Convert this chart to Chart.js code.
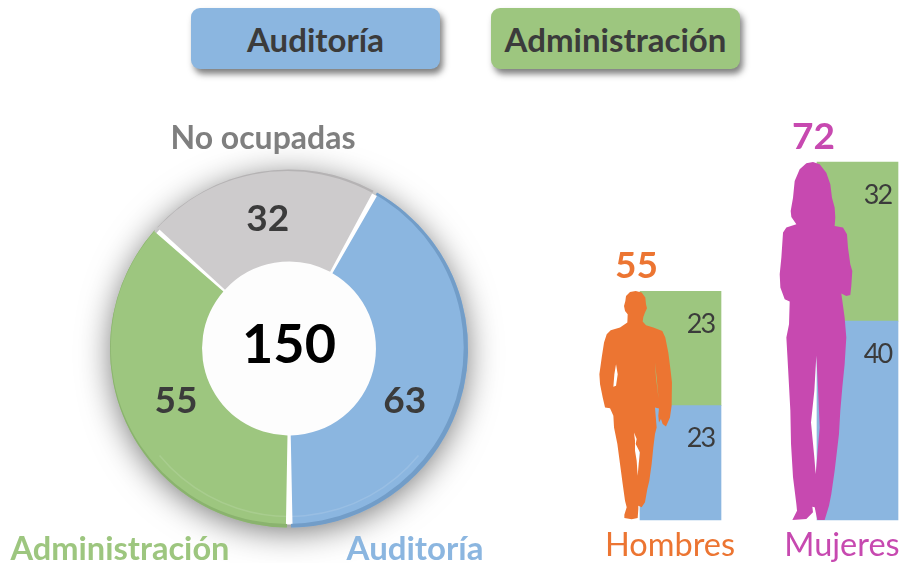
<!DOCTYPE html>
<html>
<head>
<meta charset="utf-8">
<script src="https://cdn.jsdelivr.net/npm/chart.js@4"></script>
<style>
    html, body { margin: 0; padding: 0; background: #fff; overflow: hidden; }
    #page { position: relative; width: 901px; height: 563px; font-family: Lato, sans-serif; }
    canvas { position: absolute; left: 0; top: 0; }
    .btn {
        position: absolute; top: 8px; width: 249px; height: 61px; border-radius: 9px;
        line-height: 63px; text-align: center; font-size: 33px; font-weight: 700; color: #3b3b3b;
        box-shadow: 3px 5px 6px rgba(60, 60, 60, 0.65);
    }
</style>
</head>
<body>
<div id="page">
    <div class="btn" id="btnA" style="left:191px"></div>
    <div class="btn" id="btnB" style="left:491px"></div>
    <canvas id="donut" width="901" height="563"></canvas>
    <canvas id="bars" width="901" height="563"></canvas>
</div>
<script>
const areaNames = ['Auditoría', 'Administración', 'No ocupadas'];
const areaValues = [63, 55, 32];
const centerTotal = 150;

const genders = ['Hombres', 'Mujeres'];
const genderTotals = [55, 72];
const auditoriaByGender = [23, 40];
const adminByGender = [23, 32];

const BLUE = '#8bb6e0', GREEN = '#9dc67f', GRAY = '#cdcbcc';
const areaColors = [BLUE, GREEN, GRAY];
const rimColors = ['#729dc8', '#8ab36e', '#b5b3b4'];
const nameColors = [BLUE, GREEN, '#7f7f7f'];
const genderColors = ['#ec7532', '#c749b0'];

// label nudges, the source slide had them placed by hand
const valueNudge = [[-13, 19], [8.5, -2], [1, 2]];
const nameOffset = [[126, 201], [-169, 201], [-26, -210]];
const nameSizes = [33, 32.6, 32];
const genderNudge = [-10.5, -15.5];

// silhouettes traced in their own units: x from the bar's left edge, y up from the baseline
const manH = 687;
const manPath = [
    [[-30,-685],[-13,-688],[5,-683],[16,-668],[18,-648],[21,-636],[15,-623],[10,-610],[8,-596],[18,-585],[40,-578],[67,-568],[76,-548],[85,-503],[92,-448],[96,-413],[95,-343],[90,-308],[78,-281],[68,-288],[63,-303],[57,-293],[55,-313],[57,-335],[45,-338],[50,-278],[45,-258],[40,-218],[35,-168],[28,-118],[22,-93],[15,-53],[5,-38],[-5,-43],[-5,-33],[-7,-6],[-25,-2],[-47,-6],[-47,-16],[-40,-38],[-45,-58],[-52,-108],[-60,-168],[-68,-228],[-78,-278],[-80,-313],[-90,-336],[-105,-338],[-112,-368],[-120,-408],[-122,-438],[-115,-488],[-108,-533],[-100,-558],[-88,-570],[-60,-578],[-38,-593],[-37,-618],[-45,-628],[-48,-643],[-44,-658],[-42,-673]],
    [[-72,-468],[-67,-438],[-72,-403],[-80,-400],[-77,-438]],
    [[45,-473],[50,-428],[56,-363],[48,-428]],
    [[-18,-263],[-10,-243],[-13,-228],[0,-203],[-4,-168],[-7,-133],[-10,-178],[-15,-208],[-15,-238]]
];
const womanH = 1075;
const womanPath = [
    [[-12,-1075],[8,-1068],[28,-1043],[40,-1008],[45,-968],[53,-938],[55,-908],[53,-883],[78,-878],[90,-858],[93,-818],[100,-768],[106,-748],[103,-703],[100,-676],[88,-673],[73,-680],[83,-608],[88,-548],[83,-468],[76,-398],[70,-328],[66,-258],[53,-148],[43,-78],[36,-43],[23,0],[1,0],[-7,-38],[-14,-40],[-12,-23],[-32,-3],[-74,0],[-60,-28],[-62,-48],[-72,-128],[-78,-228],[-80,-328],[-87,-458],[-92,-548],[-84,-588],[-82,-656],[-97,-663],[-110,-698],[-112,-738],[-107,-788],[-102,-863],[-92,-878],[-62,-888],[-77,-910],[-79,-928],[-72,-968],[-67,-1018],[-52,-1053],[-32,-1071]],
    [[-2,-493],[3,-398],[8,-278],[-4,-138],[-8,-188],[-18,-293],[-8,-388]]
];
const silhouettes = [
    { parts: manPath, height: manH },
    { parts: womanPath, height: womanH }
];

document.getElementById('btnA').textContent = areaNames[0];
document.getElementById('btnA').style.background = BLUE;
document.getElementById('btnB').textContent = areaNames[1];
document.getElementById('btnB').style.background = GREEN;

Chart.defaults.font.family = 'Lato, sans-serif';

const donutDecor = {
    id: 'donutDecor',
    beforeDatasetsDraw(chart) {
        const ctx = chart.ctx;
        const first = chart.getDatasetMeta(0).data[0];
        ctx.save();
        ctx.shadowColor = 'rgba(0,0,0,0.6)';
        ctx.shadowBlur = 34;
        ctx.shadowOffsetY = 5;
        ctx.fillStyle = '#fff';
        ctx.beginPath();
        ctx.arc(first.x, first.y, first.outerRadius - 1, 0, Math.PI * 2);
        ctx.fill();
        ctx.restore();
        ctx.fillStyle = '#fdfdfd';
        ctx.beginPath();
        ctx.arc(first.x, first.y, first.innerRadius + 6, 0, Math.PI * 2);
        ctx.fill();
    },
    afterDatasetsDraw(chart) {
        const ctx = chart.ctx;
        const arcs = chart.getDatasetMeta(0).data;
        arcs.forEach((arc, i) => {
            const R = arc.outerRadius + 2;
            const gap = 2 / R;
            ctx.save();
            // keep the rim inside this slice only
            ctx.beginPath();
            ctx.arc(arc.x, arc.y, R, arc.startAngle + gap, arc.endAngle - gap);
            ctx.lineTo(arc.x, arc.y);
            ctx.closePath();
            ctx.clip();
            ctx.fillStyle = rimColors[i];
            ctx.beginPath();
            ctx.arc(arc.x, arc.y, R + 2, 0, Math.PI * 2);
            ctx.arc(arc.x - 1.8, arc.y - 1, R - 2.5, 0, Math.PI * 2, true);
            ctx.fill('evenodd');
            // faint highlight just inside the rim, lower part only
            ctx.strokeStyle = 'rgba(255,255,255,0.12)';
            ctx.lineWidth = 1.5;
            ctx.beginPath();
            ctx.arc(arc.x, arc.y, R - 11, Math.PI * 0.22, Math.PI * 0.78);
            ctx.stroke();
            ctx.restore();

            const p = arc.getCenterPoint();
            ctx.fillStyle = '#3b3b3b';
            ctx.font = '700 37px Lato, sans-serif';
            ctx.textAlign = 'center';
            ctx.textBaseline = 'middle';
            ctx.fillText(String(areaValues[i]), p.x + valueNudge[i][0], p.y + valueNudge[i][1]);

            ctx.fillStyle = nameColors[i];
            ctx.font = '700 ' + nameSizes[i] + 'px Lato, sans-serif';
            ctx.fillText(areaNames[i], arc.x + nameOffset[i][0], arc.y + nameOffset[i][1]);
        });
        ctx.fillStyle = '#000';
        ctx.font = '700 54px Lato, sans-serif';
        ctx.textAlign = 'center';
        ctx.textBaseline = 'middle';
        ctx.fillText(String(centerTotal), arcs[0].x, arcs[0].y - 3);
    }
};

new Chart(document.getElementById('donut'), {
    type: 'doughnut',
    data: {
        labels: areaNames,
        datasets: [{
            data: areaValues,
            backgroundColor: areaColors,
            borderWidth: 0,
            spacing: 4
        }]
    },
    options: {
        responsive: false,
        animation: false,
        rotation: 28.8,
        cutout: '48%',
        layout: { padding: { left: 110, right: 433, top: 169, bottom: 35 } },
        plugins: { legend: { display: false }, tooltip: { enabled: false } }
    },
    plugins: [donutDecor]
});

const barDecor = {
    id: 'barDecor',
    afterDatasetsDraw(chart) {
        const ctx = chart.ctx;
        const y0 = chart.scales.y.getPixelForValue(0);
        const audit = chart.getDatasetMeta(0).data;
        const admin = chart.getDatasetMeta(1).data;
        genders.forEach((name, i) => {
            const top = admin[i];
            const left = top.x - top.width / 2;
            // person stands in front of the bar, as tall as the stack
            const sil = silhouettes[i];
            const s = (y0 - top.y) / sil.height;
            ctx.save();
            ctx.translate(left, y0);
            ctx.scale(s, s);
            ctx.beginPath();
            sil.parts.forEach(part => {
                part.forEach((pt, k) => k ? ctx.lineTo(pt[0], pt[1]) : ctx.moveTo(pt[0], pt[1]));
                ctx.closePath();
            });
            ctx.fillStyle = genderColors[i];
            ctx.fill('evenodd');
            ctx.restore();

            ctx.textAlign = 'center';
            ctx.textBaseline = 'middle';
            ctx.fillStyle = '#3b3b3b';
            ctx.font = '400 27px Lato, sans-serif';
            ctx.letterSpacing = '-2px';
            ctx.fillText(String(adminByGender[i]), top.x + 20, top.y + 33);
            ctx.fillText(String(auditoriaByGender[i]), top.x + 20, audit[i].y + 33);
            ctx.letterSpacing = '0px';

            ctx.fillStyle = genderColors[i];
            ctx.font = '700 37px Lato, sans-serif';
            ctx.fillText(String(genderTotals[i]), top.x - 44, top.y - 25);
            ctx.font = '400 32.5px Lato, sans-serif';
            ctx.fillText(name, top.x + genderNudge[i], y0 + 26);
        });
    }
};

new Chart(document.getElementById('bars'), {
    type: 'bar',
    data: {
        labels: genders,
        datasets: [
            { label: areaNames[0], data: auditoriaByGender, backgroundColor: BLUE, barThickness: 81, clip: false },
            { label: areaNames[1], data: adminByGender, backgroundColor: GREEN, barThickness: 81, clip: false }
        ]
    },
    options: {
        responsive: false,
        animation: false,
        layout: { padding: { left: 680.5, right: 43.5, top: 162, bottom: 43 } },
        scales: {
            x: { stacked: true, display: false, offset: false },
            y: { stacked: true, display: false, min: 0, max: 72 }
        },
        plugins: { legend: { display: false }, tooltip: { enabled: false } }
    },
    plugins: [barDecor]
});
</script>
</body>
</html>
